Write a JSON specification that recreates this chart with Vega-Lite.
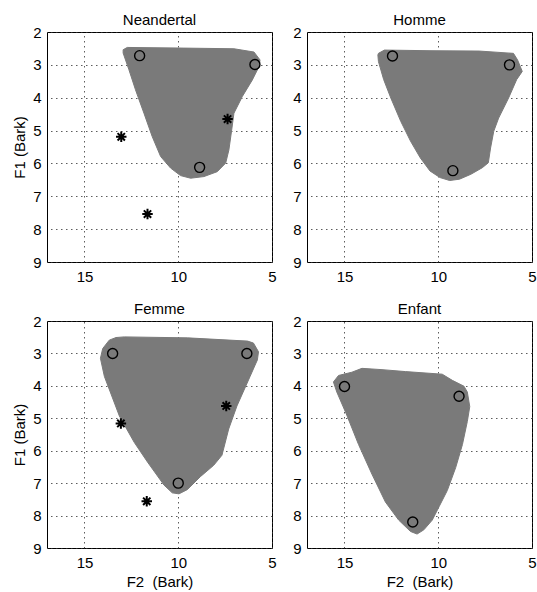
{
  "$schema": "https://vega.github.io/schema/vega-lite/v6.json",
  "padding": {"left": 12, "top": 12, "right": 0, "bottom": 2},
  "datasets": {
    "poly": [
      {"panel": "Neandertal", "i": 1, "F2": 12.94, "F1": 2.54},
      {"panel": "Neandertal", "i": 2, "F2": 12.72, "F1": 2.47},
      {"panel": "Neandertal", "i": 3, "F2": 9.70, "F1": 2.49},
      {"panel": "Neandertal", "i": 4, "F2": 7.03, "F1": 2.51},
      {"panel": "Neandertal", "i": 5, "F2": 5.96, "F1": 2.61},
      {"panel": "Neandertal", "i": 6, "F2": 5.64, "F1": 2.85},
      {"panel": "Neandertal", "i": 7, "F2": 5.69, "F1": 3.05},
      {"panel": "Neandertal", "i": 8, "F2": 6.05, "F1": 3.46},
      {"panel": "Neandertal", "i": 9, "F2": 6.58, "F1": 3.96},
      {"panel": "Neandertal", "i": 10, "F2": 7.03, "F1": 4.47},
      {"panel": "Neandertal", "i": 11, "F2": 7.15, "F1": 4.98},
      {"panel": "Neandertal", "i": 12, "F2": 7.30, "F1": 5.59},
      {"panel": "Neandertal", "i": 13, "F2": 7.47, "F1": 5.99},
      {"panel": "Neandertal", "i": 14, "F2": 7.92, "F1": 6.25},
      {"panel": "Neandertal", "i": 15, "F2": 8.63, "F1": 6.40},
      {"panel": "Neandertal", "i": 16, "F2": 9.34, "F1": 6.45},
      {"panel": "Neandertal", "i": 17, "F2": 9.88, "F1": 6.37},
      {"panel": "Neandertal", "i": 18, "F2": 10.41, "F1": 6.14},
      {"panel": "Neandertal", "i": 19, "F2": 10.94, "F1": 5.79},
      {"panel": "Neandertal", "i": 20, "F2": 11.39, "F1": 5.18},
      {"panel": "Neandertal", "i": 21, "F2": 11.83, "F1": 4.47},
      {"panel": "Neandertal", "i": 22, "F2": 12.28, "F1": 3.76},
      {"panel": "Neandertal", "i": 23, "F2": 12.63, "F1": 3.15},
      {"panel": "Neandertal", "i": 24, "F2": 12.94, "F1": 2.64},
      {"panel": "Homme", "i": 1, "F2": 13.19, "F1": 2.65},
      {"panel": "Homme", "i": 2, "F2": 12.87, "F1": 2.55},
      {"panel": "Homme", "i": 3, "F2": 10.44, "F1": 2.57},
      {"panel": "Homme", "i": 4, "F2": 7.82, "F1": 2.58},
      {"panel": "Homme", "i": 5, "F2": 5.99, "F1": 2.65},
      {"panel": "Homme", "i": 6, "F2": 5.77, "F1": 2.85},
      {"panel": "Homme", "i": 7, "F2": 5.52, "F1": 3.20},
      {"panel": "Homme", "i": 8, "F2": 5.82, "F1": 3.45},
      {"panel": "Homme", "i": 9, "F2": 6.25, "F1": 4.01},
      {"panel": "Homme", "i": 10, "F2": 6.78, "F1": 4.62},
      {"panel": "Homme", "i": 11, "F2": 7.04, "F1": 5.02},
      {"panel": "Homme", "i": 12, "F2": 7.21, "F1": 5.53},
      {"panel": "Homme", "i": 13, "F2": 7.33, "F1": 5.98},
      {"panel": "Homme", "i": 14, "F2": 7.65, "F1": 6.13},
      {"panel": "Homme", "i": 15, "F2": 8.26, "F1": 6.33},
      {"panel": "Homme", "i": 16, "F2": 8.87, "F1": 6.48},
      {"panel": "Homme", "i": 17, "F2": 9.39, "F1": 6.52},
      {"panel": "Homme", "i": 18, "F2": 9.91, "F1": 6.43},
      {"panel": "Homme", "i": 19, "F2": 10.44, "F1": 6.23},
      {"panel": "Homme", "i": 20, "F2": 10.96, "F1": 5.83},
      {"panel": "Homme", "i": 21, "F2": 11.48, "F1": 5.32},
      {"panel": "Homme", "i": 22, "F2": 12.00, "F1": 4.72},
      {"panel": "Homme", "i": 23, "F2": 12.53, "F1": 4.01},
      {"panel": "Homme", "i": 24, "F2": 12.91, "F1": 3.45},
      {"panel": "Homme", "i": 25, "F2": 13.19, "F1": 2.90},
      {"panel": "Homme", "i": 26, "F2": 13.22, "F1": 2.70},
      {"panel": "Femme", "i": 1, "F2": 13.32, "F1": 2.51},
      {"panel": "Femme", "i": 2, "F2": 12.88, "F1": 2.49},
      {"panel": "Femme", "i": 3, "F2": 9.50, "F1": 2.52},
      {"panel": "Femme", "i": 4, "F2": 6.30, "F1": 2.62},
      {"panel": "Femme", "i": 5, "F2": 5.99, "F1": 2.68},
      {"panel": "Femme", "i": 6, "F2": 5.72, "F1": 2.95},
      {"panel": "Femme", "i": 7, "F2": 5.78, "F1": 3.20},
      {"panel": "Femme", "i": 8, "F2": 6.17, "F1": 3.71},
      {"panel": "Femme", "i": 9, "F2": 6.87, "F1": 4.62},
      {"panel": "Femme", "i": 10, "F2": 7.31, "F1": 5.33},
      {"panel": "Femme", "i": 11, "F2": 7.67, "F1": 6.14},
      {"panel": "Femme", "i": 12, "F2": 8.11, "F1": 6.45},
      {"panel": "Femme", "i": 13, "F2": 8.82, "F1": 6.80},
      {"panel": "Femme", "i": 14, "F2": 9.52, "F1": 7.20},
      {"panel": "Femme", "i": 15, "F2": 9.96, "F1": 7.33},
      {"panel": "Femme", "i": 16, "F2": 10.32, "F1": 7.30},
      {"panel": "Femme", "i": 17, "F2": 10.76, "F1": 7.06},
      {"panel": "Femme", "i": 18, "F2": 11.64, "F1": 6.35},
      {"panel": "Femme", "i": 19, "F2": 12.35, "F1": 5.74},
      {"panel": "Femme", "i": 20, "F2": 13.14, "F1": 4.93},
      {"panel": "Femme", "i": 21, "F2": 13.94, "F1": 3.71},
      {"panel": "Femme", "i": 22, "F2": 14.15, "F1": 3.15},
      {"panel": "Femme", "i": 23, "F2": 14.03, "F1": 2.85},
      {"panel": "Femme", "i": 24, "F2": 13.68, "F1": 2.59},
      {"panel": "Enfant", "i": 1, "F2": 15.59, "F1": 3.88},
      {"panel": "Enfant", "i": 2, "F2": 15.32, "F1": 3.68},
      {"panel": "Enfant", "i": 3, "F2": 14.61, "F1": 3.58},
      {"panel": "Enfant", "i": 4, "F2": 14.07, "F1": 3.46},
      {"panel": "Enfant", "i": 5, "F2": 13.00, "F1": 3.50},
      {"panel": "Enfant", "i": 6, "F2": 11.75, "F1": 3.56},
      {"panel": "Enfant", "i": 7, "F2": 9.79, "F1": 3.64},
      {"panel": "Enfant", "i": 8, "F2": 9.25, "F1": 3.83},
      {"panel": "Enfant", "i": 9, "F2": 8.63, "F1": 4.01},
      {"panel": "Enfant", "i": 10, "F2": 8.45, "F1": 4.19},
      {"panel": "Enfant", "i": 11, "F2": 8.32, "F1": 4.64},
      {"panel": "Enfant", "i": 12, "F2": 8.45, "F1": 5.10},
      {"panel": "Enfant", "i": 13, "F2": 8.71, "F1": 5.81},
      {"panel": "Enfant", "i": 14, "F2": 9.07, "F1": 6.52},
      {"panel": "Enfant", "i": 15, "F2": 9.52, "F1": 7.23},
      {"panel": "Enfant", "i": 16, "F2": 9.96, "F1": 7.73},
      {"panel": "Enfant", "i": 17, "F2": 10.32, "F1": 8.14},
      {"panel": "Enfant", "i": 18, "F2": 10.77, "F1": 8.44},
      {"panel": "Enfant", "i": 19, "F2": 11.13, "F1": 8.57},
      {"panel": "Enfant", "i": 20, "F2": 11.48, "F1": 8.49},
      {"panel": "Enfant", "i": 21, "F2": 12.11, "F1": 8.14},
      {"panel": "Enfant", "i": 22, "F2": 12.82, "F1": 7.58},
      {"panel": "Enfant", "i": 23, "F2": 13.54, "F1": 6.72},
      {"panel": "Enfant", "i": 24, "F2": 14.25, "F1": 5.81},
      {"panel": "Enfant", "i": 25, "F2": 14.88, "F1": 4.90},
      {"panel": "Enfant", "i": 26, "F2": 15.41, "F1": 4.19}
    ],
    "pts": [
      {"panel": "Neandertal", "kind": "circle", "F2": 12.06, "F1": 2.72},
      {"panel": "Neandertal", "kind": "circle", "F2": 5.91, "F1": 2.99},
      {"panel": "Neandertal", "kind": "circle", "F2": 8.86, "F1": 6.12},
      {"panel": "Neandertal", "kind": "star", "F2": 13.04, "F1": 5.19},
      {"panel": "Neandertal", "kind": "star", "F2": 11.64, "F1": 7.54},
      {"panel": "Neandertal", "kind": "star", "F2": 7.37, "F1": 4.65},
      {"panel": "Homme", "kind": "circle", "F2": 12.44, "F1": 2.73},
      {"panel": "Homme", "kind": "circle", "F2": 6.2, "F1": 3.0},
      {"panel": "Homme", "kind": "circle", "F2": 9.22, "F1": 6.22},
      {"panel": "Femme", "kind": "circle", "F2": 13.5, "F1": 3.0},
      {"panel": "Femme", "kind": "circle", "F2": 6.34, "F1": 3.0},
      {"panel": "Femme", "kind": "circle", "F2": 10.0, "F1": 7.0},
      {"panel": "Femme", "kind": "star", "F2": 13.06, "F1": 5.16},
      {"panel": "Femme", "kind": "star", "F2": 11.68, "F1": 7.56},
      {"panel": "Femme", "kind": "star", "F2": 7.44, "F1": 4.62},
      {"panel": "Enfant", "kind": "circle", "F2": 15.0, "F1": 4.02},
      {"panel": "Enfant", "kind": "circle", "F2": 8.89, "F1": 4.32},
      {"panel": "Enfant", "kind": "circle", "F2": 11.36, "F1": 8.2}
    ]
  },
  "columns": 2,
  "spacing": {"row": 16, "column": 15},
  "resolve": {"scale": {"x": "independent", "y": "independent"}},
  "concat": [
    {
      "width": 225, "height": 230,
      "title": "Neandertal",
      "encoding": {
        "x": {"field": "F2", "type": "quantitative", "scale": {"domain": [5, 17], "reverse": true, "nice": false, "zero": false}, "axis": {"values": [5, 10, 15], "title": null}},
        "y": {"field": "F1", "type": "quantitative", "scale": {"domain": [2, 9], "reverse": true, "nice": false, "zero": false}, "axis": {"values": [2, 3, 4, 5, 6, 7, 8, 9], "title": "F1 (Bark)"}}
      },
      "layer": [
        {"data": {"name": "poly"}, "transform": [{"filter": "datum.panel === 'Neandertal'"}], "mark": {"type": "line", "interpolate": "linear-closed", "fill": "#7a7a7a", "stroke": "#7a7a7a", "strokeWidth": 1}, "encoding": {"order": {"field": "i", "type": "quantitative"}}},
        {"data": {"name": "pts"}, "transform": [{"filter": "datum.panel === 'Neandertal' && datum.kind === 'circle'"}], "mark": {"type": "point", "shape": "circle", "filled": false, "stroke": "black", "strokeWidth": 1.4, "size": 100, "opacity": 1}},
        {"data": {"name": "pts"}, "transform": [{"filter": "datum.panel === 'Neandertal' && datum.kind === 'star'"}], "mark": {"type": "point", "shape": "M -1 0 L 1 0 M 0 -1 L 0 1 M -0.7 -0.7 L 0.7 0.7 M -0.7 0.7 L 0.7 -0.7", "filled": false, "stroke": "black", "strokeWidth": 2, "size": 110, "opacity": 1}}
      ]
    },
    {
      "width": 225, "height": 230,
      "title": "Homme",
      "encoding": {
        "x": {"field": "F2", "type": "quantitative", "scale": {"domain": [5, 17], "reverse": true, "nice": false, "zero": false}, "axis": {"values": [5, 10, 15], "title": null}},
        "y": {"field": "F1", "type": "quantitative", "scale": {"domain": [2, 9], "reverse": true, "nice": false, "zero": false}, "axis": {"values": [2, 3, 4, 5, 6, 7, 8, 9], "title": null}}
      },
      "layer": [
        {"data": {"name": "poly"}, "transform": [{"filter": "datum.panel === 'Homme'"}], "mark": {"type": "line", "interpolate": "linear-closed", "fill": "#7a7a7a", "stroke": "#7a7a7a", "strokeWidth": 1}, "encoding": {"order": {"field": "i", "type": "quantitative"}}},
        {"data": {"name": "pts"}, "transform": [{"filter": "datum.panel === 'Homme' && datum.kind === 'circle'"}], "mark": {"type": "point", "shape": "circle", "filled": false, "stroke": "black", "strokeWidth": 1.4, "size": 100, "opacity": 1}}
      ]
    },
    {
      "width": 225, "height": 227,
      "title": "Femme",
      "encoding": {
        "x": {"field": "F2", "type": "quantitative", "scale": {"domain": [5, 17], "reverse": true, "nice": false, "zero": false}, "axis": {"values": [5, 10, 15], "title": "F2\u00a0\u00a0(Bark)"}},
        "y": {"field": "F1", "type": "quantitative", "scale": {"domain": [2, 9], "reverse": true, "nice": false, "zero": false}, "axis": {"values": [2, 3, 4, 5, 6, 7, 8, 9], "title": "F1 (Bark)"}}
      },
      "layer": [
        {"data": {"name": "poly"}, "transform": [{"filter": "datum.panel === 'Femme'"}], "mark": {"type": "line", "interpolate": "linear-closed", "fill": "#7a7a7a", "stroke": "#7a7a7a", "strokeWidth": 1}, "encoding": {"order": {"field": "i", "type": "quantitative"}}},
        {"data": {"name": "pts"}, "transform": [{"filter": "datum.panel === 'Femme' && datum.kind === 'circle'"}], "mark": {"type": "point", "shape": "circle", "filled": false, "stroke": "black", "strokeWidth": 1.4, "size": 100, "opacity": 1}},
        {"data": {"name": "pts"}, "transform": [{"filter": "datum.panel === 'Femme' && datum.kind === 'star'"}], "mark": {"type": "point", "shape": "M -1 0 L 1 0 M 0 -1 L 0 1 M -0.7 -0.7 L 0.7 0.7 M -0.7 0.7 L 0.7 -0.7", "filled": false, "stroke": "black", "strokeWidth": 2, "size": 110, "opacity": 1}}
      ]
    },
    {
      "width": 225, "height": 227,
      "title": "Enfant",
      "encoding": {
        "x": {"field": "F2", "type": "quantitative", "scale": {"domain": [5, 17], "reverse": true, "nice": false, "zero": false}, "axis": {"values": [5, 10, 15], "title": "F2\u00a0\u00a0(Bark)"}},
        "y": {"field": "F1", "type": "quantitative", "scale": {"domain": [2, 9], "reverse": true, "nice": false, "zero": false}, "axis": {"values": [2, 3, 4, 5, 6, 7, 8, 9], "title": null}}
      },
      "layer": [
        {"data": {"name": "poly"}, "transform": [{"filter": "datum.panel === 'Enfant'"}], "mark": {"type": "line", "interpolate": "linear-closed", "fill": "#7a7a7a", "stroke": "#7a7a7a", "strokeWidth": 1}, "encoding": {"order": {"field": "i", "type": "quantitative"}}},
        {"data": {"name": "pts"}, "transform": [{"filter": "datum.panel === 'Enfant' && datum.kind === 'circle'"}], "mark": {"type": "point", "shape": "circle", "filled": false, "stroke": "black", "strokeWidth": 1.4, "size": 100, "opacity": 1}}
      ]
    }
  ],
  "config": {
    "font": "Liberation Sans",
    "view": {"stroke": "black", "strokeWidth": 1},
    "axis": {"grid": true, "gridColor": "#333333", "gridDash": [1.5, 3.5], "gridWidth": 0.8, "domain": false, "ticks": false, "labelFontSize": 15, "labelColor": "black", "labelFlush": false, "labelOverlap": false, "titleFontSize": 15, "titleFontWeight": "normal", "titleColor": "black"},
    "axisX": {"labelPadding": 7, "titlePadding": 4},
    "axisY": {"labelPadding": 6, "titlePadding": 5},
    "title": {"fontSize": 15, "fontWeight": "normal", "offset": -3, "color": "black"}
  }
}
